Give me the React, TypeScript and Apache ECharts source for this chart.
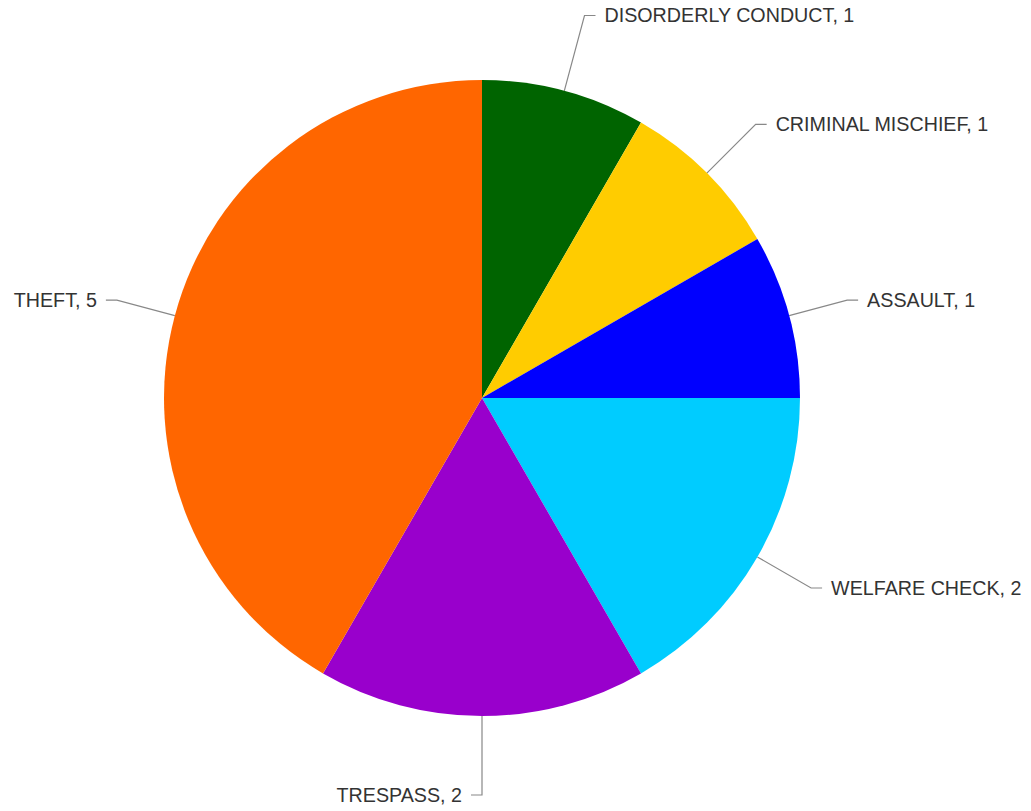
import React, { useEffect, useRef } from "react";
import * as echarts from "echarts";

const categories = ["DISORDERLY CONDUCT", "CRIMINAL MISCHIEF", "ASSAULT", "WELFARE CHECK", "TRESPASS", "THEFT"];
const values = [1, 1, 1, 2, 2, 5];
const colors = ["#006400", "#FFCC00", "#0000FF", "#00CCFF", "#9900CC", "#FF6600"];
// label line first-segment lengths (style), per slice
const lineLengths = [78, 69, 60, 62, 79, 60];

export default function App() {
  const ref = useRef<HTMLDivElement>(null);
  useEffect(() => {
    if (!ref.current) return;
    const chart = echarts.init(ref.current, undefined, { renderer: "svg" });
    chart.setOption({
      animation: false,
      series: [
        {
          type: "pie",
          center: [482, 398],
          radius: 318,
          startAngle: 90,
          clockwise: true,
          avoidLabelOverlap: false,
          data: categories.map((name, i) => ({
            name,
            value: values[i],
            itemStyle: { color: colors[i] },
            labelLine: { length: lineLengths[i] },
          })),
          label: {
            show: true,
            formatter: "{b}, {c}",
            color: "#333333",
            fontSize: 19.7,
            fontFamily: "'Liberation Sans', Arial, sans-serif",
            distanceToLabelLine: 9,
          },
          labelLine: {
            show: true,
            length: 60,
            length2: 11,
            lineStyle: { color: "#888888", width: 1.2 },
          },
          emphasis: { disabled: true },
        },
      ],
    });
    return () => chart.dispose();
  }, []);
  return (
    <div
      ref={ref}
      style={{ position: "fixed", left: 0, top: 0, width: 1031, height: 811, background: "#ffffff" }}
    />
  );
}
